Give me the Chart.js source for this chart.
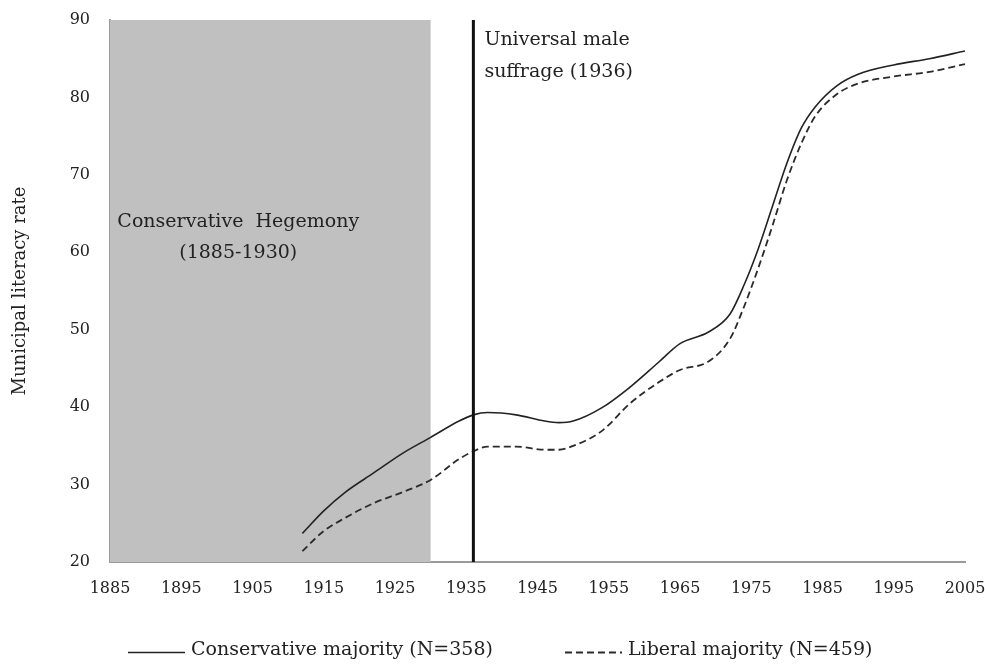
<!DOCTYPE html>
<html><head><meta charset="utf-8">
<script src="https://cdn.jsdelivr.net/npm/chart.js@4/dist/chart.umd.min.js"></script>
<style>html,body{margin:0;padding:0;background:#fff}#wrap{width:985px;height:664px;position:relative}</style>
</head><body><div id="wrap"><canvas id="c"></canvas></div>
<script>
const years = [1912,1915,1918,1922,1926,1930,1934,1936,1938,1942,1946,1948,1950,1954,1958,1962,1965,1969,1972,1974,1976,1978,1980,1982,1984,1987,1990,1995,2000,2005];
const conservative = [23.7,26.6,29.0,31.5,34.0,36.1,38.2,39.0,39.3,39.0,38.2,38.0,38.2,39.9,42.6,45.8,48.2,49.7,52.0,55.8,60.5,66.0,71.5,76.0,78.8,81.5,83.0,84.2,85.0,86.0];
const liberal = [21.4,24.0,25.7,27.6,29.0,30.6,33.3,34.3,34.9,34.9,34.5,34.5,35.0,36.9,40.5,43.2,44.8,45.9,48.8,53.0,58.0,63.5,69.3,74.0,77.6,80.4,81.8,82.7,83.3,84.3];
const seriesNames = ['Conservative majority (N=358)', 'Liberal majority (N=459)'];
const xTicks = [1885,1895,1905,1915,1925,1935,1945,1955,1965,1975,1985,1995,2005];
const yTicks = [20,30,40,50,60,70,80,90];
const hegemonyStart = 1885, hegemonyEnd = 1930;
const suffrageYear = 1936;
const hegemonyLabel = ['Conservative  Hegemony', '(1885-1930)'];
const suffrageLabel = ['Universal male', 'suffrage (1936)'];

const FONT = "'DejaVu Serif', serif";
const TXT = '#222';

const overlay = {
  id: 'overlay',
  beforeDatasetsDraw(chart) {
    const {ctx, chartArea: a, scales: {x}} = chart;
    ctx.save();
    ctx.fillStyle = '#c0c0c0';
    const x0 = x.getPixelForValue(hegemonyStart), x1 = x.getPixelForValue(hegemonyEnd);
    ctx.fillRect(x0, a.top, x1 - x0, a.bottom - a.top);
    ctx.restore();
  },
  afterDatasetsDraw(chart) {
    const {ctx, chartArea: a, scales: {x, y}} = chart;
    ctx.save();
    const xl = x.getPixelForValue(suffrageYear);
    ctx.strokeStyle = '#111';
    ctx.lineWidth = 3;
    ctx.beginPath();
    ctx.moveTo(xl, a.top);
    ctx.lineTo(xl, a.bottom);
    ctx.stroke();
    ctx.fillStyle = TXT;
    ctx.font = "19px " + FONT;
    ctx.textBaseline = 'middle';
    ctx.textAlign = 'left';
    ctx.fillText(suffrageLabel[0], xl + 11, y.getPixelForValue(87.4));
    ctx.fillText(suffrageLabel[1], xl + 11, y.getPixelForValue(83.3));
    ctx.textAlign = 'center';
    const xc = x.getPixelForValue(1903);
    ctx.fillText(hegemonyLabel[0], xc, y.getPixelForValue(63.9));
    ctx.fillText(hegemonyLabel[1], xc, y.getPixelForValue(59.9));
    ctx.restore();
  },
  afterDraw(chart) {
    // legend built from the datasets
    const {ctx, chartArea: a} = chart;
    ctx.save();
    ctx.font = "19px " + FONT;
    ctx.fillStyle = TXT;
    ctx.textBaseline = 'alphabetic';
    ctx.textAlign = 'left';
    const lineLen = 57, gapText = 6, gapItem = 72;
    const baseY = chart.height - 9;
    let cx = a.left + 18;
    chart.data.datasets.forEach(ds => {
      ctx.strokeStyle = ds.borderColor;
      ctx.lineWidth = ds.borderWidth;
      ctx.setLineDash(ds.borderDash || []);
      ctx.beginPath();
      ctx.moveTo(cx, baseY - 2.5);
      ctx.lineTo(cx + lineLen, baseY - 2.5);
      ctx.stroke();
      ctx.setLineDash([]);
      const tx = cx + lineLen + gapText;
      ctx.fillText(ds.label, tx, baseY);
      cx = tx + ctx.measureText(ds.label).width + gapItem;
    });
    ctx.restore();
  }
};

new Chart(document.getElementById('c'), {
  type: 'line',
  data: {
    datasets: [
      {
        label: seriesNames[0],
        data: years.map((yr, i) => ({x: yr, y: conservative[i]})),
        borderColor: '#222', backgroundColor: '#222',
        borderWidth: 1.6, pointRadius: 0, cubicInterpolationMode: 'monotone', fill: false
      },
      {
        label: seriesNames[1],
        data: years.map((yr, i) => ({x: yr, y: liberal[i]})),
        borderColor: '#2a2a2a', backgroundColor: '#2a2a2a',
        borderWidth: 1.8, borderDash: [7, 4], pointRadius: 0, cubicInterpolationMode: 'monotone', fill: false
      }
    ]
  },
  options: {
    responsive: true, maintainAspectRatio: false, animation: false,
    layout: {padding: {top: 20, right: 20, left: 10, bottom: 62}},
    plugins: {
      tooltip: {enabled: false},
      legend: {display: false}
    },
    scales: {
      x: {
        type: 'linear', min: 1885, max: 2005,
        afterBuildTicks: s => { s.ticks = xTicks.map(v => ({value: v})); },
        afterFit: s => { s.height = 40; s.paddingLeft = 0; s.paddingRight = 0; },
        grid: {display: false, drawTicks: false},
        border: {display: true, color: '#9a9a9a', width: 2},
        ticks: {color: TXT, font: {family: FONT, size: 16}, padding: 17, maxRotation: 0, autoSkip: false, callback: v => String(v)}
      },
      y: {
        min: 20, max: 90,
        afterBuildTicks: s => { s.ticks = yTicks.map(v => ({value: v})); },
        afterFit: s => { s.width = 100; s.paddingTop = 0; s.paddingBottom = 0; },
        grid: {display: false, drawTicks: false},
        border: {display: true, color: '#9a9a9a', width: 2},
        ticks: {color: TXT, font: {family: FONT, size: 16}, padding: 20},
        title: {display: true, text: 'Municipal literacy rate', color: TXT, font: {family: FONT, size: 18}, padding: 0}
      }
    }
  },
  plugins: [overlay]
});
</script>
</body></html>
